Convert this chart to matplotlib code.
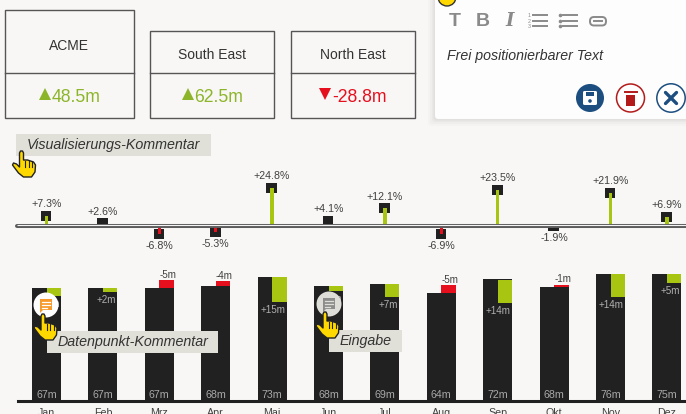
import numpy as np
import matplotlib
matplotlib.use("Agg")
import matplotlib.pyplot as plt
from matplotlib.patches import Circle, FancyBboxPatch, Polygon, Rectangle

plt.rcParams['font.family'] = ['Liberation Sans', 'DejaVu Sans']

W, H = 686, 414
BG = '#f8f7f5'
DARK = '#212121'
GREEN = '#a8c511'
RED = '#e60f1e'
TXT = '#404040'

months = ['Jan', 'Feb', 'Mrz', 'Apr', 'Mai', 'Jun', 'Jul', 'Aug', 'Sep', 'Okt', 'Nov', 'Dez']
pct = [7.3, 2.6, -6.8, -5.3, 24.8, 4.1, 12.1, -6.9, 23.5, -1.9, 21.9, 6.9]
bars = [67.0, 67.0, 67.0, 68.0, 73.5, 68.3, 69.5, 64.3, 72.3, 67.8, 75.5, 75.4]
bar_labels = ['67m', '67m', '67m', '68m', '73m', '68m', '69m', '64m', '72m', '68m', '76m', '75m']
delta_top = [67.0, 67.0, 71.8, 71.0, 73.5, 68.3, 69.5, 68.7, 71.9, 69.0, 75.5, 75.4]
delta_size = [4.8, 2.4, 4.8, 3.0, 15.0, 3.0, 7.8, 4.8, 13.8, 1.2, 13.8, 5.4]
delta_labels = ['+5m', '+2m', '-5m', '-4m', '+15m', '+3m', '+7m', '-5m', '+14m', '-1m', '+14m', '+5m']

cards = ['ACME', 'South East', 'North East']
card_values = ['48.5m', '62.5m', '-28.8m']

fig = plt.figure(figsize=(W / 100, (H + 0.01) / 100), dpi=100, facecolor=BG)


def px_axes(l, t, r, b, zorder=1):
    ax = fig.add_axes([l / W, 1 - b / H, (r - l) / W, (b - t) / H], zorder=zorder)
    ax.patch.set_visible(False)
    return ax


# months are 56.4 px apart, the first one sits at x=46.5
xlim = (-46.5 / 56.4, (W - 46.5) / 56.4)
x = np.arange(12)
bar_w = 29 / 56.4
pm_px = 1.67  # px per m
pc_px = 1.6  # px per %

# variance pins
var = px_axes(0, 170, W, 260)
var.set_xlim(xlim)
var.set_ylim(-34.5 / pc_px, 55.5 / pc_px)
var.axis('off')
pct_arr = np.array(pct)
pins = pct_arr - np.sign(pct_arr) * 1.3
hw = 5 / pc_px
for i, (v, p) in enumerate(zip(pct_arr, pins)):
    lo, hi = p - hw, p + hw
    lo, hi = (max(lo, 0), hi) if v > 0 else (lo, min(hi, 0))
    var.bar(i - 0.007, hi - lo, bottom=lo, width=10.5 / 56.4, color=DARK)
    if abs(v) > 5:
        var.bar(i, p, width=3.4 / 56.4, color=GREEN if v > 0 else RED)
    lab = f'{v:+.1f}%'
    if v > 0:
        var.annotate(lab, (i, hi), xytext=(0, 4.8), textcoords='offset points',
                     ha='center', va='center', fontsize=7.7, color=TXT)
    else:
        var.annotate(lab, (i, lo), xytext=(0, -4.8), textcoords='offset points',
                     ha='center', va='center', fontsize=7.7, color=TXT)

# columns
ax = px_axes(0, 260, W, 401.5)
ax.set_xlim(xlim)
ax.set_ylim(-1.5 / pm_px, 140 / pm_px)
ax.bar(x, bars, width=bar_w, color=DARK)
ax.set_yticks([])
for s in ['top', 'left', 'right']:
    ax.spines[s].set_visible(False)
ax.spines['bottom'].set_linewidth(2.2)
ax.spines['bottom'].set_color(DARK)
ax.spines['bottom'].set_bounds(18 / 56.4 + xlim[0], xlim[1])
ax.set_xticks(x, months)
ax.tick_params(axis='x', length=0, pad=4.4, labelsize=7.7, labelcolor=TXT)

for i, lab in enumerate(delta_labels):
    top, size = delta_top[i], delta_size[i]
    up = lab[0] == '+'
    ax.bar(i + bar_w / 4, size, bottom=top - size, width=bar_w / 2,
           color=GREEN if up else RED)
    if up:
        ax.annotate(lab, (i + bar_w / 2, top - size), xytext=(-1, -5.6), textcoords='offset points',
                    ha='right', va='center', fontsize=7.1, color='#b0b0b0')
    else:
        ax.annotate(lab, (i + bar_w / 4, top), xytext=(1, 3.8), textcoords='offset points',
                    ha='center', va='center', fontsize=7.1, color=TXT)
    ax.annotate(bar_labels[i], (i, 0), xytext=(0, 3.4), textcoords='offset points',
                ha='center', va='center', fontsize=7.7, color='#a8a8a8')

# everything that is not chart goes in a pixel overlay
ov = px_axes(0, 0, W, H, zorder=5)
ov.set_xlim(0, W)
ov.set_ylim(H, 0)
ov.axis('off')

# zero line of the pins
ov.plot([17, W + 5], [225.6, 225.6], color='#5c5c5c', lw=2.9, solid_capstyle='round')
ov.plot([17, W + 5], [225.2, 225.2], color='#f4f4f4', lw=0.8, solid_capstyle='butt')

# kpi cards
boxes = [(4.5, 10, 134), (149.5, 31, 274), (290.5, 31, 415)]
for (l, t, r), name, val in zip(boxes, cards, card_values):
    ov.add_patch(Rectangle((l, t), r - l, 118 - t, fc='none', ec='#555555', lw=1))
    ov.plot([l, r], [73, 73], color='#555555', lw=1)
    ov.text((l + r) / 2, (t + 73) / 2 + 3 if t > 10 else 45.5, name, ha='center', va='center',
            fontsize=10, color='#333333')
    neg = val[0] == '-'
    col = RED if neg else '#8db52a'
    cx = (l + r) / 2
    tx = cx + 7
    ov.text(tx, 97, val, ha='center', va='center', fontsize=12.7, color=col)
    mx = tx - (35 if neg else 31)
    ov.plot(mx, 94.5, marker='v' if neg else '^', ms=8, color=col, mew=0)


def comment(l, t, r, b, label):
    ov.add_patch(Rectangle((l, t), r - l, b - t, fc='#e0dfd8', ec='none', zorder=3))
    ov.text(l + 10.5, (t + b) / 2 + 0.3, label, ha='left', va='center', style='italic',
            fontsize=10.3, color='#333333', zorder=4)


comment(16, 134, 211, 156, 'Visualisierungs-Kommentar')
comment(47, 331, 218, 353, 'Datenpunkt-Kommentar')
comment(329, 330, 402, 352, 'Eingabe')


def hand(tx, ty):
    pts = [(-2, 1), (-1, -1), (1, -1), (2, 1), (2, 8), (6, 8), (9, 9), (12, 10), (14, 13), (13.5, 20), (10, 25),
           (2, 25), (-3, 21), (-9, 13), (-8, 11), (-5, 12), (-2, 15)]
    ov.add_patch(Polygon([(tx + a, ty + b) for a, b in pts], closed=True, fc='#ffd800', ec='#222222',
                         lw=1, zorder=6, joinstyle='round'))
    for dx in (3.5, 7, 10.5):
        ov.plot([tx + dx, tx + dx], [ty + 9, ty + 15], color='#222222', lw=0.8, zorder=7)


def bubble(cx, cy, r, fc, col):
    ov.add_patch(Circle((cx, cy), r, fc=fc, ec='none', zorder=5))
    ov.add_patch(Polygon([(cx - 6, cy - 6), (cx + 6, cy - 6), (cx + 6, cy + 5), (cx - 3, cy + 5), (cx - 6, cy + 8)],
                         closed=True, fc=col, ec='none', zorder=5))
    for dy, w in ((-3, 8), (0, 8), (3, 5)):
        ov.plot([cx - 4, cx - 4 + w], [cy + dy, cy + dy], color=fc, lw=0.9, zorder=5)


bubble(46, 305, 12.5, 'white', '#f7992b')
bubble(329, 304, 12.5, '#dfddd7', '#8c8c8c')
hand(21.5, 152)
hand(43, 315)
hand(325, 313)

# editor popup
for grow, a in ((7, 0.015), (5, 0.02), (3, 0.025), (1.5, 0.03)):
    ov.add_patch(FancyBboxPatch((435 - grow, -10), 270, 129 + grow, boxstyle='round,pad=0,rounding_size=3',
                                fc='black', ec='none', alpha=a, zorder=8))
ov.add_patch(FancyBboxPatch((435, -10), 270, 129, boxstyle='round,pad=0,rounding_size=3',
                            fc='#fdfdfd', ec='none', zorder=8))
ov.add_patch(Circle((447, -3), 9, fc='#ffd800', ec='#333333', lw=1, zorder=9))

GREY = '#8a8a8a'
ov.text(455, 21, 'T', ha='center', va='center', fontsize=14, weight='bold', color=GREY, zorder=9)
ov.text(483, 21, 'B', ha='center', va='center', fontsize=14, weight='bold', color=GREY, zorder=9)
ov.text(510, 21, 'I', ha='center', va='center', fontsize=13, weight='bold', style='italic',
        family='DejaVu Serif', color=GREY, zorder=9)
for n, y in zip('123', (15, 21, 26.5)):
    ov.text(529.5, y, n, ha='center', va='center', fontsize=3.8, color=GREY, zorder=9)
    ov.plot([533, 547], [y, y], color=GREY, lw=1.4, zorder=9)
    ov.plot([560], [y], marker='o', ms=2.6, color=GREY, mew=0, zorder=9)
    ov.plot([563, 577], [y, y], color=GREY, lw=1.4, zorder=9)
ov.add_patch(FancyBboxPatch((590, 17), 16, 8.5, boxstyle='round,pad=0,rounding_size=4', fc='none', ec=GREY,
                            lw=1.4, zorder=9))
ov.plot([594, 602], [21.2, 21.2], color=GREY, lw=1.4, zorder=9)
ov.text(447, 56, 'Frei positionierbarer Text', ha='left', va='center', style='italic', fontsize=10.2,
        color='#333333', zorder=9)

BLUE = '#1c4e80'
DRED = '#b31b1b'
ov.add_patch(Circle((590, 98), 14, fc=BLUE, ec='none', zorder=9))
ov.add_patch(FancyBboxPatch((583, 91), 14, 14, boxstyle='round,pad=0,rounding_size=1.5', fc='white', ec='none', zorder=10))
ov.add_patch(Rectangle((585.5, 92.5), 8, 3.5, fc=BLUE, ec='none', zorder=11))
ov.add_patch(Circle((590, 101), 1.8, fc=BLUE, ec='none', zorder=11))
ov.add_patch(Circle((630.5, 98), 14, fc='white', ec=DRED, lw=1.1, zorder=9))
ov.add_patch(Rectangle((626, 95), 9, 11, fc=DRED, ec='none', zorder=10))
ov.plot([624.5, 636.5], [92.5, 92.5], color=DRED, lw=1.4, zorder=10)
ov.add_patch(Circle((671, 98), 14.2, fc='white', ec=BLUE, lw=1.1, zorder=9))
ov.plot([665.5, 676.5], [92.5, 103.5], color=BLUE, lw=2.4, zorder=10, solid_capstyle='round')
ov.plot([665.5, 676.5], [103.5, 92.5], color=BLUE, lw=2.4, zorder=10, solid_capstyle='round')

fig.savefig('out.png', dpi=100, facecolor=BG)
